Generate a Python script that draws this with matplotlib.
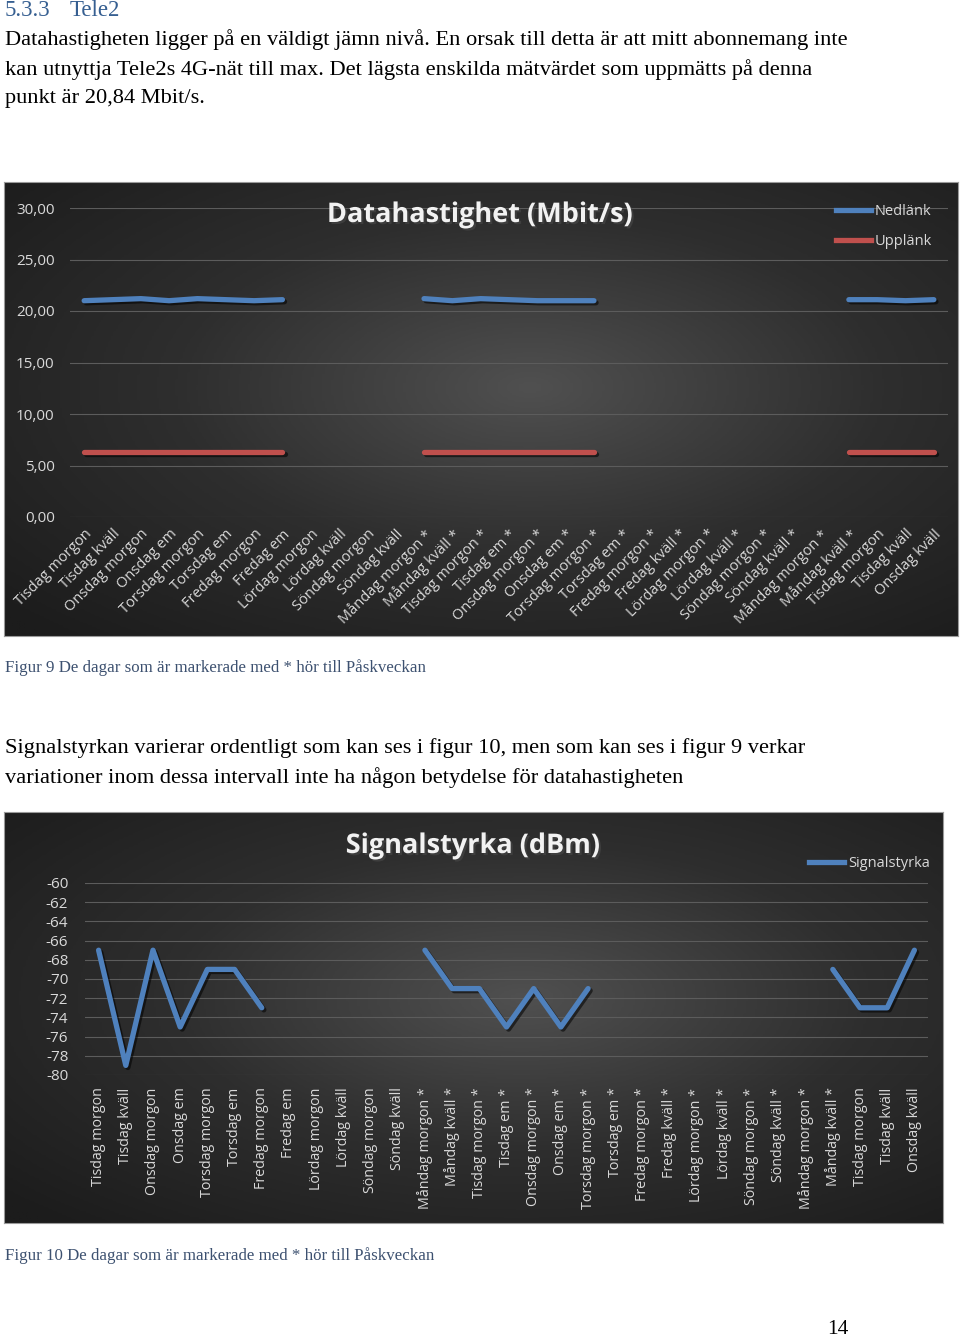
import numpy as np
import matplotlib
matplotlib.use("Agg")
import matplotlib.pyplot as plt
import matplotlib.patheffects as pe
from matplotlib.colors import LinearSegmentedColormap
from matplotlib.lines import Line2D

nan = np.nan

# categories (x axis, both charts)
categories = [
    "Tisdag morgon", "Tisdag kväll", "Onsdag morgon", "Onsdag em",
    "Torsdag morgon", "Torsdag em", "Fredag morgon", "Fredag em",
    "Lördag morgon", "Lördag kväll", "Söndag morgon", "Söndag kväll",
    "Måndag morgon *", "Måndag kväll *", "Tisdag morgon *", "Tisdag em *",
    "Onsdag morgon *", "Onsdag em *", "Torsdag morgon *", "Torsdag em *",
    "Fredag morgon *", "Fredag kväll *", "Lördag morgon *", "Lördag kväll *",
    "Söndag morgon *", "Söndag kväll *", "Måndag morgon *", "Måndag kväll *",
    "Tisdag morgon", "Tisdag kväll", "Onsdag kväll",
]

# Mbit/s
nedlank = [21.0, 21.1, 21.2, 21.0, 21.2, 21.1, 21.0, 21.1,
           nan, nan, nan, nan,
           21.2, 21.0, 21.2, 21.1, 21.0, 21.0, 21.0,
           nan, nan, nan, nan, nan, nan, nan, nan,
           21.1, 21.1, 21.0, 21.1]
upplank = [6.3, 6.3, 6.3, 6.3, 6.3, 6.3, 6.3, 6.3,
           nan, nan, nan, nan,
           6.3, 6.3, 6.3, 6.3, 6.3, 6.3, 6.3,
           nan, nan, nan, nan, nan, nan, nan, nan,
           6.3, 6.3, 6.3, 6.3]

# dBm
signal = [-67, -79, -67, -75, -69, -69, -73,
          nan, nan, nan, nan, nan,
          -67, -71, -71, -75, -71, -75, -71,
          nan, nan, nan, nan, nan, nan, nan, nan,
          -69, -73, -73, -67]

speed_ticks = [0, 5, 10, 15, 20, 25, 30]
signal_ticks = list(range(-80, -59, 2))

W, H = 960, 1340
fig = plt.figure(figsize=(W / 100, H / 100), dpi=100)
fig.patch.set_facecolor("white")


def box(x, y, w, h):
    # pixel box (top-left origin) -> figure fraction rect
    return [x / W, 1 - (y + h) / H, w / W, h / H]


def ftext(x, y, s, **kw):
    fig.text(x / W, 1 - y / H, s, **kw)


serif = "Liberation Serif"
body = dict(family=serif, fontsize=16.1, color="black", va="center", ha="left")
head_col = "#365f91"
cap_col = "#3d5170"

# page text
ftext(5, 11, "5.3.3", family=serif, fontsize=16.5, color=head_col, va="center")
ftext(70, 11, "Tele2", family=serif, fontsize=16.5, color=head_col, va="center")
ftext(5, 40, "Datahastigheten ligger på en väldigt jämn nivå. En orsak till detta är att mitt abonnemang inte", **body)
ftext(5, 70, "kan utnyttja Tele2s 4G-nät till max. Det lägsta enskilda mätvärdet som uppmätts på denna", **body)
ftext(5, 99, "punkt är 20,84 Mbit/s.", **body)
ftext(5, 668, "Figur 9 De dagar som är markerade med * hör till Påskveckan",
      family=serif, fontsize=12.2, color=cap_col, va="center")
ftext(5, 748, "Signalstyrkan varierar ordentligt som kan ses i figur 10, men som kan ses i figur 9 verkar", **body)
ftext(5, 778, "variationer inom dessa intervall inte ha någon betydelse för datahastigheten", **body)
ftext(5, 1256, "Figur 10 De dagar som är markerade med * hör till Påskveckan",
      family=serif, fontsize=12.2, color=cap_col, va="center")
ftext(838, 1330, "14", family=serif, fontsize=15.5, color="black", va="center", ha="center")

bg_cmap = LinearSegmentedColormap.from_list("bg", ["#1c1c1c", "#2e2e2e", "#505050"])


def chart_background(rect):
    bax = fig.add_axes(rect, zorder=0)
    ny, nx = 200, 400
    yy, xx = np.mgrid[0:ny, 0:nx]
    d = np.sqrt(((xx - nx * 0.55) / nx) ** 2 + ((yy - ny * 0.45) / ny) ** 2)
    val = np.clip(1 - d * 1.35, 0, 1)
    bax.imshow(val, cmap=bg_cmap, aspect="auto", vmin=0, vmax=1)
    bax.set_xticks([])
    bax.set_yticks([])
    for sp in bax.spines.values():
        sp.set_color("#9a9a9a")
        sp.set_linewidth(0.8)
    return bax


sans = "Open Sans"
lab_col = "#d9d9d9"
blue = "#4f81bd"
red = "#c0504d"
shadow = [pe.SimpleLineShadow(offset=(1.5, -1.5), shadow_color="black", alpha=0.55),
          pe.Normal()]
x = np.arange(len(categories))

# ---------- chart 1: Datahastighet ----------
chart_background(box(4, 182, 954, 454))
ax1 = fig.add_axes(box(70, 208, 878, 309), zorder=1)
ax1.patch.set_alpha(0)
ax1.plot(x, nedlank, color=blue, lw=3.8, solid_capstyle="round", path_effects=shadow)
ax1.plot(x, upplank, color=red, lw=3.8, solid_capstyle="round", path_effects=shadow)
ax1.set_xlim(-0.5, len(categories) - 0.5)
ax1.set_ylim(0, 30)
ax1.set_yticks(speed_ticks)
ax1.set_yticklabels([f"{v:.2f}".replace(".", ",") for v in speed_ticks],
                    family=sans, fontsize=11, color=lab_col)
ax1.set_xticks(x)
ax1.set_xticklabels(categories, rotation=45, ha="right", va="top",
                    rotation_mode="anchor", family=sans, fontsize=10.5, color=lab_col)
ax1.tick_params(length=0, axis="y", pad=11)
ax1.tick_params(length=0, axis="x", pad=7)
ax1.grid(axis="y", color="#5c5c5c", lw=0.8)
ax1.set_axisbelow(True)
for sp in ax1.spines.values():
    sp.set_visible(False)

ftext(480, 215, "Datahastighet (Mbit/s)", family=sans, fontsize=19.5, weight="bold",
      color="#f2f2f2", ha="center", va="center",
      path_effects=[pe.withSimplePatchShadow(offset=(1.5, -1.5), alpha=0.6)])

leg1 = fig.legend(
    [Line2D([], [], color=blue, lw=3.8), Line2D([], [], color=red, lw=3.8)],
    ["Nedlänk", "Upplänk"], loc="upper left",
    bbox_to_anchor=(829 / W, 1 - 197 / H), frameon=False,
    prop={"family": sans, "size": 10.5}, labelcolor=lab_col,
    handlelength=2.4, handletextpad=0.25, labelspacing=1.0, borderpad=0)
leg1.set_zorder(3)

# ---------- chart 2: Signalstyrka ----------
chart_background(box(4, 812, 939, 411))
ax2 = fig.add_axes(box(85, 883, 843, 192), zorder=1)
ax2.patch.set_alpha(0)
ax2.plot(x, signal, color=blue, lw=3.8, solid_capstyle="round", path_effects=shadow)
ax2.set_xlim(-0.5, len(categories) - 0.5)
ax2.set_ylim(-80, -60)
ax2.set_yticks(signal_ticks)
ax2.set_yticklabels([str(v) for v in signal_ticks], family=sans, fontsize=11, color=lab_col)
ax2.set_xticks(x)
ax2.set_xticklabels(categories, rotation=90, ha="center", va="top",
                    family=sans, fontsize=10.3, color=lab_col)
ax2.tick_params(length=0, axis="y", pad=12)
ax2.tick_params(length=0, axis="x", pad=9)
ax2.grid(axis="y", color="#5c5c5c", lw=0.8)
ax2.set_axisbelow(True)
for sp in ax2.spines.values():
    sp.set_visible(False)

ftext(473, 846, "Signalstyrka (dBm)", family=sans, fontsize=19.5, weight="bold",
      color="#f2f2f2", ha="center", va="center",
      path_effects=[pe.withSimplePatchShadow(offset=(1.5, -1.5), alpha=0.6)])

leg2 = fig.legend(
    [Line2D([], [], color=blue, lw=3.8)], ["Signalstyrka"], loc="upper left",
    bbox_to_anchor=(802 / W, 1 - 849 / H), frameon=False,
    prop={"family": sans, "size": 10.5}, labelcolor=lab_col,
    handlelength=2.4, handletextpad=0.25, borderpad=0)
leg2.set_zorder(3)

fig.savefig("out.png", dpi=100, facecolor="white")
